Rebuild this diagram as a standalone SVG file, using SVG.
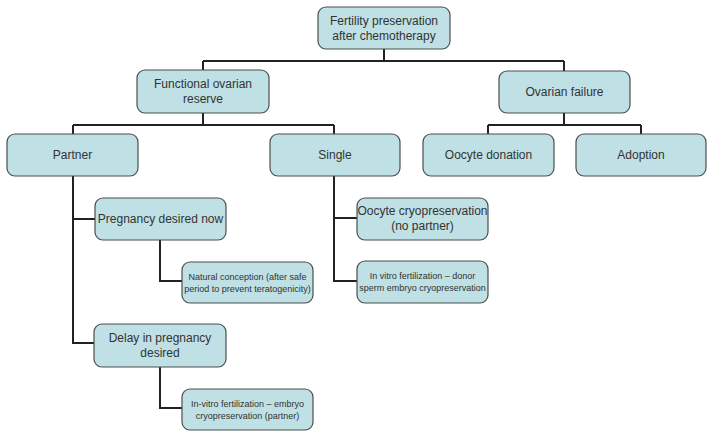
<svg xmlns="http://www.w3.org/2000/svg" width="714" height="438" viewBox="0 0 714 438">
<style>
.box{fill:#bfe0e4;stroke:#4d4d4d;stroke-width:1.2}
.t{font-family:"Liberation Sans",Arial,sans-serif;font-size:12px;fill:#333;text-anchor:middle}
.s{font-family:"Liberation Sans",Arial,sans-serif;font-size:9px;fill:#333;text-anchor:middle}
.c{fill:none;stroke:#222;stroke-width:2}
</style>
<rect width="714" height="438" fill="#fff"/>
<g id="connectors">
<path class="c" d="M384,49V61M203,61H564M203,61V70M564,61V71"/>
<path class="c" d="M203,113V125M73,125H334M73,125V134M334,125V134"/>
<path class="c" d="M564,113V125M488,125H641M488,125V134M641,125V134"/>
<path class="c" d="M73,176V343H94M73,219H95"/>
<path class="c" d="M160,240V281H182"/>
<path class="c" d="M160,367V408H182"/>
<path class="c" d="M334,176V281H357M334,218H357"/>
</g>
<g id="n-top"><rect class="box" x="318" y="7" width="132" height="42" rx="8"/><text class="t" x="384" y="24.5">Fertility preservation</text><text class="t" x="384" y="39.5">after chemotherapy</text></g>
<g id="n-for"><rect class="box" x="137" y="70" width="132" height="43" rx="8"/><text class="t" x="203" y="88">Functional ovarian</text><text class="t" x="203" y="103">reserve</text></g>
<g id="n-of"><rect class="box" x="499" y="71" width="131" height="42" rx="8"/><text class="t" x="564.5" y="96">Ovarian failure</text></g>
<g id="n-partner"><rect class="box" x="7" y="134" width="131" height="42" rx="8"/><text class="t" x="72.5" y="159">Partner</text></g>
<g id="n-single"><rect class="box" x="270" y="134" width="130" height="42" rx="8"/><text class="t" x="335" y="159">Single</text></g>
<g id="n-donation"><rect class="box" x="423" y="134" width="131" height="42" rx="8"/><text class="t" x="488.5" y="159">Oocyte donation</text></g>
<g id="n-adoption"><rect class="box" x="576" y="134" width="130" height="42" rx="8"/><text class="t" x="641" y="159">Adoption</text></g>
<g id="n-now"><rect class="box" x="95" y="198" width="131" height="42" rx="8"/><text class="t" x="160.5" y="223">Pregnancy desired now</text></g>
<g id="n-natural"><rect class="box" x="182" y="262" width="131" height="41" rx="8"/><text class="s" x="247.5" y="279.5">Natural conception (after safe</text><text class="s" x="247.5" y="291.5">period to prevent teratogenicity)</text></g>
<g id="n-delay"><rect class="box" x="94" y="324" width="132" height="43" rx="8"/><text class="t" x="160" y="341.5">Delay in pregnancy</text><text class="t" x="160" y="356.5">desired</text></g>
<g id="n-ivf-partner"><rect class="box" x="182" y="389" width="131" height="41" rx="8"/><text class="s" x="247.5" y="406.5">In-vitro fertilization – embryo</text><text class="s" x="247.5" y="418.5">cryopreservation (partner)</text></g>
<g id="n-oocyte-cryo"><rect class="box" x="357" y="198" width="131" height="42" rx="8"/><text class="t" x="422.5" y="215">Oocyte cryopreservation</text><text class="t" x="422.5" y="230">(no partner)</text></g>
<g id="n-ivf-donor"><rect class="box" x="357" y="261" width="131" height="42" rx="8"/><text class="s" x="422.5" y="279">In vitro fertilization – donor</text><text class="s" x="422.5" y="291">sperm embryo cryopreservation</text></g>
</svg>
